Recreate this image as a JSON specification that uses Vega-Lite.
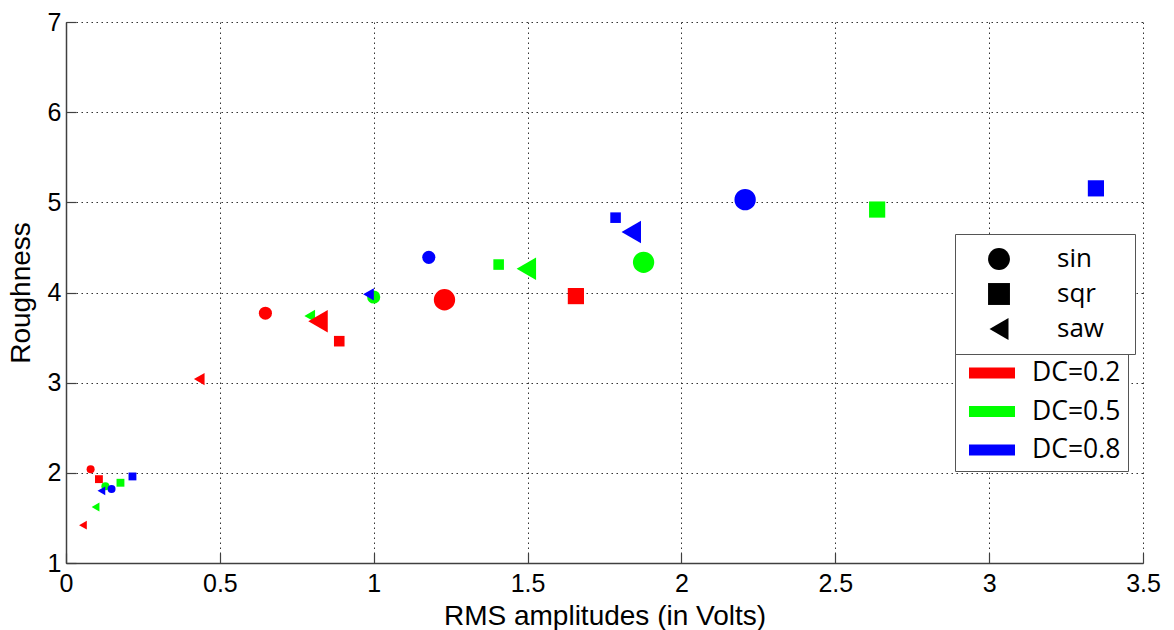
{
  "$schema": "https://vega.github.io/schema/vega-lite/v6.json",
  "width": 1077,
  "height": 541,
  "autosize": "none",
  "padding": {"left": 66, "top": 22, "right": 31, "bottom": 67},
  "background": "white",
  "config": {
    "view": {"stroke": null},
    "axis": {
      "labelFont": "Liberation Sans",
      "labelFontSize": 25,
      "labelColor": "black",
      "titleFont": "Liberation Sans",
      "titleFontSize": 28,
      "titleFontWeight": "normal",
      "titleColor": "black",
      "domainColor": "#404040",
      "domainWidth": 1.5,
      "tickColor": "#404040",
      "tickWidth": 1.2,
      "tickSize": -10,
      "gridColor": "#333333",
      "gridDash": [1.5, 3.5],
      "gridWidth": 1,
      "gridOpacity": 1
    }
  },
  "data": {
    "values": [
      {"wave": "sin", "dc": "0.2", "level": 1, "rms": 0.080, "roughness": 2.04},
      {"wave": "sqr", "dc": "0.2", "level": 1, "rms": 0.107, "roughness": 1.93},
      {"wave": "saw", "dc": "0.2", "level": 1, "rms": 0.055, "roughness": 1.42},
      {"wave": "sin", "dc": "0.5", "level": 1, "rms": 0.128, "roughness": 1.85},
      {"wave": "sqr", "dc": "0.5", "level": 1, "rms": 0.177, "roughness": 1.89},
      {"wave": "saw", "dc": "0.5", "level": 1, "rms": 0.096, "roughness": 1.62},
      {"wave": "sin", "dc": "0.8", "level": 1, "rms": 0.148, "roughness": 1.82},
      {"wave": "sqr", "dc": "0.8", "level": 1, "rms": 0.216, "roughness": 1.96},
      {"wave": "saw", "dc": "0.8", "level": 1, "rms": 0.115, "roughness": 1.80},
      {"wave": "sin", "dc": "0.2", "level": 2, "rms": 0.648, "roughness": 3.77},
      {"wave": "sqr", "dc": "0.2", "level": 2, "rms": 0.888, "roughness": 3.46},
      {"wave": "saw", "dc": "0.2", "level": 2, "rms": 0.433, "roughness": 3.04},
      {"wave": "sin", "dc": "0.5", "level": 2, "rms": 1.000, "roughness": 3.95},
      {"wave": "sqr", "dc": "0.5", "level": 2, "rms": 1.406, "roughness": 4.31},
      {"wave": "saw", "dc": "0.5", "level": 2, "rms": 0.792, "roughness": 3.74},
      {"wave": "sin", "dc": "0.8", "level": 2, "rms": 1.179, "roughness": 4.39},
      {"wave": "sqr", "dc": "0.8", "level": 2, "rms": 1.786, "roughness": 4.83},
      {"wave": "saw", "dc": "0.8", "level": 2, "rms": 0.983, "roughness": 3.98},
      {"wave": "sin", "dc": "0.2", "level": 3, "rms": 1.230, "roughness": 3.92},
      {"wave": "sqr", "dc": "0.2", "level": 3, "rms": 1.657, "roughness": 3.96},
      {"wave": "saw", "dc": "0.2", "level": 3, "rms": 0.819, "roughness": 3.68},
      {"wave": "sin", "dc": "0.5", "level": 3, "rms": 1.877, "roughness": 4.335},
      {"wave": "sqr", "dc": "0.5", "level": 3, "rms": 2.636, "roughness": 4.92},
      {"wave": "saw", "dc": "0.5", "level": 3, "rms": 1.496, "roughness": 4.264},
      {"wave": "sin", "dc": "0.8", "level": 3, "rms": 2.207, "roughness": 5.03},
      {"wave": "sqr", "dc": "0.8", "level": 3, "rms": 3.347, "roughness": 5.155},
      {"wave": "saw", "dc": "0.8", "level": 3, "rms": 1.837, "roughness": 4.67}
    ]
  },
  "encoding": {
    "x": {
      "field": "rms", "type": "quantitative",
      "scale": {"domain": [0, 3.5], "nice": false, "zero": false},
      "axis": {
        "title": "RMS amplitudes (in Volts)",
        "values": [0, 0.5, 1, 1.5, 2, 2.5, 3, 3.5],
        "format": "~g",
        "labelPadding": 18,
        "titlePadding": 6,
        "labelFlush": false
      }
    },
    "y": {
      "field": "roughness", "type": "quantitative",
      "scale": {"domain": [1, 7], "nice": false, "zero": false},
      "axis": {
        "title": "Roughness",
        "values": [1, 2, 3, 4, 5, 6, 7],
        "format": "~g",
        "labelPadding": 15,
        "titlePadding": 12,
        "labelFlush": false
      }
    },
    "color": {
      "field": "dc", "type": "nominal",
      "scale": {"domain": ["0.2", "0.5", "0.8"], "range": ["#ff0000", "#00ff00", "#0000ff"]},
      "legend": {
        "orient": "none", "legendX": 889, "legendY": 331,
        "title": null,
        "strokeColor": "#555555", "fillColor": "white",
        "padding": 7.5,
        "symbolType": "M-1,-0.24H1V0.24H-1Z",
        "symbolSize": 2116,
        "symbolStrokeWidth": 0,
        "symbolOpacity": 1,
        "symbolOffset": 6.5,
        "labelOffset": 17,
        "clipHeight": 25,
        "rowPadding": 11.5,
        "labelFont": "Open Sans",
        "labelFontSize": 26.5,
        "labelColor": "black",
        "labelExpr": "'DC=' + datum.label"
      }
    },
    "shape": {
      "field": "wave", "type": "nominal",
      "scale": {"domain": ["sin", "sqr", "saw"], "range": ["circle", "square", "triangle-left"]},
      "legend": {
        "orient": "none", "legendX": 889, "legendY": 212,
        "title": null,
        "strokeColor": "#555555", "fillColor": "white",
        "padding": 12,
        "symbolSize": 480,
        "symbolFillColor": "black",
        "symbolStrokeColor": "black",
        "symbolStrokeWidth": 0,
        "symbolOpacity": 1,
        "symbolOffset": 19,
        "labelOffset": 45,
        "rowPadding": 9,
        "labelFont": "Open Sans",
        "labelFontSize": 26,
        "labelColor": "black",
        "labelExpr": "datum.label + '\u2800'"
      }
    }
  },
  "layer": [
    {
      "transform": [{"filter": "datum.wave === 'sin'"}],
      "mark": {"type": "point", "filled": true, "opacity": 1, "strokeWidth": 0},
      "encoding": {
        "size": {"field": "level", "type": "quantitative", "scale": {"domain": [1, 2, 3], "range": [64, 172, 455]}, "legend": null}
      }
    },
    {
      "transform": [{"filter": "datum.wave === 'sqr'"}],
      "mark": {"type": "point", "filled": true, "opacity": 1, "strokeWidth": 0},
      "encoding": {
        "size": {"field": "level", "type": "quantitative", "scale": {"domain": [1, 2, 3], "range": [62, 112, 262]}, "legend": null}
      }
    },
    {
      "transform": [{"filter": "datum.wave === 'saw'"}],
      "mark": {"type": "point", "filled": true, "opacity": 1, "strokeWidth": 0},
      "encoding": {
        "size": {"field": "level", "type": "quantitative", "scale": {"domain": [1, 2, 3], "range": [80, 152, 505]}, "legend": null}
      }
    }
  ],
  "resolve": {"scale": {"size": "independent"}}
}
